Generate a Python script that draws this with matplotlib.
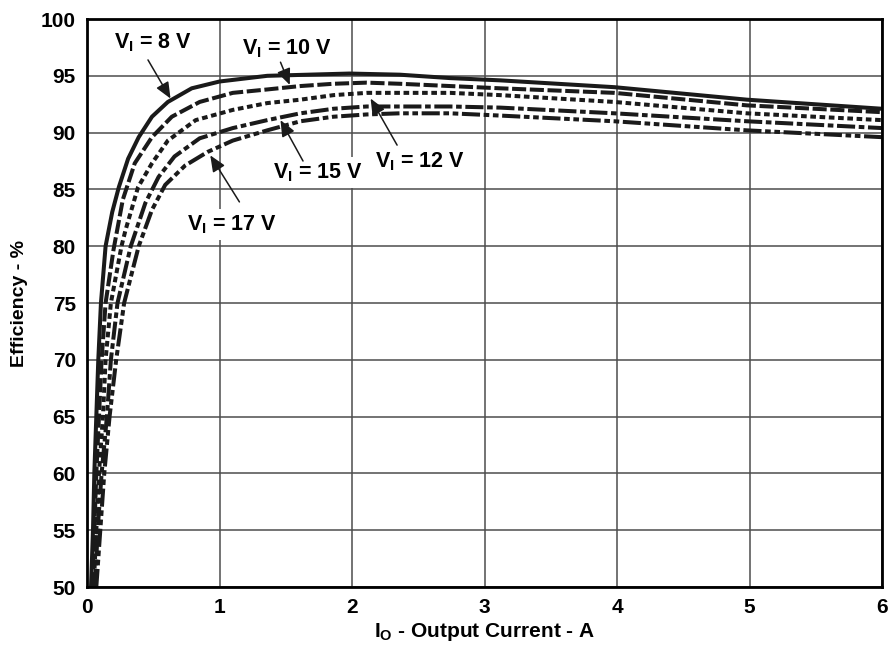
import matplotlib
matplotlib.use("Agg")
import matplotlib.pyplot as plt

plt.rcParams['font.family'] = ['Liberation Sans', 'DejaVu Sans']
plt.rcParams['font.weight'] = 'bold'
plt.rcParams['mathtext.fontset'] = 'custom'
plt.rcParams['mathtext.rm'] = 'Liberation Sans:bold'
plt.rcParams['mathtext.it'] = 'Liberation Sans:bold'
plt.rcParams['mathtext.bf'] = 'Liberation Sans:bold'

# efficiency curves (current in A, efficiency in %)
x_8v = [0.03, 0.045, 0.055, 0.07, 0.085, 0.105, 0.14, 0.19, 0.24, 0.31, 0.39, 0.49, 0.61,
        0.79, 1.0, 1.36, 1.98, 2.36, 2.74, 3.12, 3.98, 4.98, 6.0]
y_8v = [50, 55, 60, 65, 70, 75, 80, 83, 85.2, 87.7, 89.6, 91.4, 92.7,
        93.9, 94.5, 95.0, 95.2, 95.1, 94.8, 94.6, 94.0, 92.9, 92.1]

x_10v = [0.04, 0.055, 0.07, 0.09, 0.11, 0.14, 0.2, 0.27, 0.36, 0.49, 0.64, 0.85, 1.1,
         1.36, 1.61, 1.86, 2.11, 2.36, 2.74, 3.12, 3.98, 4.98, 6.0]
y_10v = [50, 55, 60, 65, 70, 75, 79.7, 84.1, 87.3, 89.6, 91.4, 92.7, 93.5,
         93.8, 94.1, 94.3, 94.4, 94.3, 94.1, 93.9, 93.5, 92.4, 91.8]

x_12v = [0.05, 0.07, 0.09, 0.12, 0.14, 0.18, 0.26, 0.29, 0.385, 0.49, 0.61, 0.82, 1.1,
         1.36, 1.61, 1.86, 2.11, 2.36, 2.74, 3.12, 3.98, 4.98, 6.0]
y_12v = [50, 55, 60, 65, 70, 75, 80, 81.4, 85.2, 87.3, 89.3, 91.1, 92.0,
         92.6, 92.9, 93.3, 93.5, 93.5, 93.5, 93.3, 92.7, 91.7, 91.1]

x_15v = [0.06, 0.08, 0.11, 0.15, 0.18, 0.23, 0.33, 0.44, 0.54, 0.66, 0.85, 1.1,
         1.36, 1.61, 1.86, 2.11, 2.36, 2.74, 3.12, 3.98, 4.98, 6.0]
y_15v = [50, 55, 60, 65, 70, 75, 80, 83.8, 86.1, 87.9, 89.5, 90.4,
         91.1, 91.7, 92.1, 92.3, 92.3, 92.3, 92.2, 91.7, 91.0, 90.4]

x_17v = [0.07, 0.1, 0.13, 0.17, 0.22, 0.28, 0.39, 0.49, 0.59, 0.74, 0.91, 1.1,
         1.36, 1.61, 1.86, 2.11, 2.36, 2.74, 3.12, 3.98, 4.98, 6.0]
y_17v = [50, 55, 60, 65, 70, 75, 80, 83.2, 85.4, 87.1, 88.3, 89.3,
         90.2, 91.0, 91.4, 91.6, 91.7, 91.7, 91.5, 91.0, 90.2, 89.6]

x_ticks = [0, 1, 2, 3, 4, 5, 6]
y_ticks = [50, 55, 60, 65, 70, 75, 80, 85, 90, 95, 100]

fig = plt.figure(figsize=(8.89, 6.47), dpi=100)
ax = fig.add_axes([0.0979, 0.0927, 0.8943, 0.8779])

lw = 2.9
ax.plot(x_8v, y_8v, color='#1a1a1a', lw=lw, solid_capstyle='butt', zorder=3)
ax.plot(x_10v, y_10v, color='#1a1a1a', lw=lw, ls=(0, (3.5, 0.9)), zorder=3)
ax.plot(x_12v, y_12v, color='#1a1a1a', lw=lw, ls=(0, (1.4, 0.9)), zorder=3)
ax.plot(x_15v, y_15v, color='#1a1a1a', lw=lw, ls=(0, (4.5, 0.9, 1.4, 0.9)), zorder=3)
ax.plot(x_17v, y_17v, color='#1a1a1a', lw=lw, ls=(0, (4.5, 0.9, 1.4, 0.9, 1.4, 0.9)), zorder=3)

ax.set_xlim(0, 6)
ax.set_ylim(50, 100)
ax.set_xticks(x_ticks)
ax.set_yticks(y_ticks)
ax.tick_params(length=0, labelsize=15, pad=8)
for lab in ax.get_xticklabels() + ax.get_yticklabels():
    lab.set_fontweight('bold')
ax.grid(True, color='#4d4d4d', lw=1.1, zorder=1)
for sp in ax.spines.values():
    sp.set_linewidth(2)
    sp.set_zorder(5)

ax.set_xlabel(r'$\mathrm{I_O}$ - Output Current - A', fontsize=15, fontweight='bold', labelpad=3)
ax.set_ylabel('Efficiency - %', fontsize=14, fontweight='bold', labelpad=9)

# labels: (text, text pos, arrow tail, arrow tip)
labels = [
    (r'$\mathrm{V_I}$ = 8 V', (0.50, 97.9), (0.46, 96.4), (0.63, 93.0)),
    (r'$\mathrm{V_I}$ = 10 V', (1.51, 97.4), (1.46, 96.2), (1.53, 94.2)),
    (r'$\mathrm{V_I}$ = 15 V', (1.74, 86.5), (1.63, 87.5), (1.46, 91.1)),
    (r'$\mathrm{V_I}$ = 12 V', (2.51, 87.4), (2.34, 88.9), (2.14, 93.0)),
    (r'$\mathrm{V_I}$ = 17 V', (1.09, 81.9), (1.15, 83.9), (0.93, 88.0)),
]
for txt, pos, tail, tip in labels:
    ax.text(pos[0], pos[1], txt, fontsize=15.5, fontweight='bold', ha='center', va='center',
            bbox=dict(facecolor='white', edgecolor='none', pad=3), zorder=4)
    ax.annotate('', xy=tip, xytext=tail,
                arrowprops=dict(arrowstyle='-|>,head_length=0.7,head_width=0.3',
                                color='#1a1a1a', lw=1.1, shrinkA=0, shrinkB=0,
                                mutation_scale=14),
                zorder=4)

fig.savefig('out.png', dpi=100)
